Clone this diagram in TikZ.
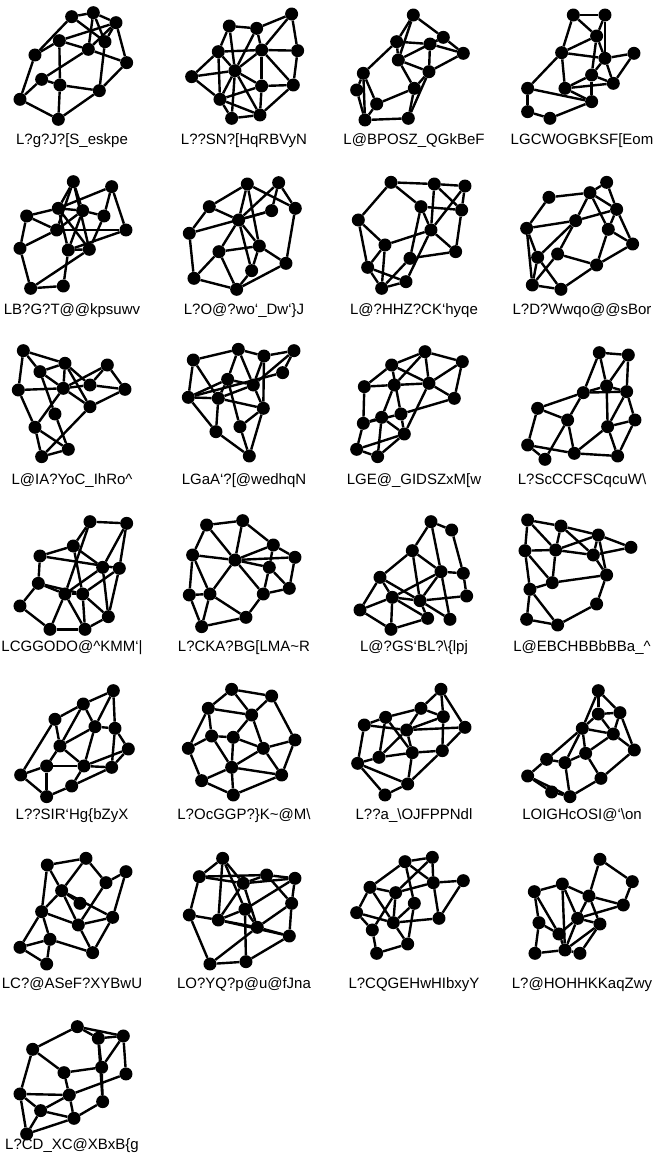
\documentclass[tikz,border=0pt]{standalone}
\usepackage{fontspec}
\setmainfont{Liberation Sans}
\usepackage{tikz}

\tikzset{
  vtx/.style = {circle,fill=black,draw=none,inner sep=0pt,minimum size=13pt},
  edg/.style = {black,line width=2.4pt},
  lbl/.style = {anchor=base,inner sep=0pt,font=\fontsize{15}{17}\selectfont},
  cell/.style = {x=0.3333pt,y=-0.3333pt},
}

\begin{document}
\begin{tikzpicture}[x=1pt,y=-1pt]
  \useasboundingbox (0,0) rectangle (669,1163);

  % row 1
  \begin{scope}[shift={(0,0)},cell]
    \foreach \n/\x/\y in {a/215/50,b/280/38,c/348/68,d/178/122,e/315/125,f/265/148,g/105/165,
                          h/380/188,i/125/238,j/180/255,k/298/272,l/60/298,m/175/358}
      \node[vtx] (g1\n) at (\x,\y) {};
    \foreach \u/\v in {a/b,b/c,a/g,a/e,b/f,b/e,c/e,c/h,c/f,d/g,d/f,d/j,f/h,f/i,e/k,h/k,g/l,
                       i/j,i/l,j/k,j/m,l/m,m/k,d/c}
      \draw[edg] (g1\u) -- (g1\v);
  \end{scope}
  \begin{scope}[shift={(0,0)},cell]
    \foreach \n/\x/\y in {a/688/78,b/770/85,c/875/42,d/655/155,e/785/150,f/893/152,g/575/230,
                          h/705/212,i/785/258,j/880/255,k/660/298,l/695/355,m/780/345}
      \node[vtx] (g2\n) at (\x,\y) {};
    \foreach \u/\v in {a/b,a/d,a/h,b/c,b/e,b/h,c/e,c/f,d/e,d/g,d/h,d/k,e/f,e/h,e/i,e/j,f/j,
                       g/h,g/k,h/i,h/k,h/l,h/m,i/j,i/k,i/m,j/m,k/l,k/m,l/m}
      \draw[edg] (g2\u) -- (g2\v);
  \end{scope}
  \begin{scope}[shift={(335,0)},cell]
    \foreach \n/\x/\y in {a/235/45,b/185/125,c/285/132,d/325/112,e/385/160,f/190/180,g/282/215,
                          h/85/220,i/65/270,j/238/265,k/125/312,l/90/360,m/220/355}
      \node[vtx] (g3\n) at (\x,\y) {};
    \foreach \u/\v in {a/b,a/d,a/f,b/c,b/f,b/h,c/d,c/g,c/e,d/e,d/f,e/g,f/g,f/j,g/j,g/m,h/i,
                       h/k,h/l,i/l,j/k,j/m,l/m,k/l}
      \draw[edg] (g3\u) -- (g3\v);
  \end{scope}
  \begin{scope}[shift={(335,0)},cell]
    \foreach \n/\x/\y in {a/715/45,b/810/45,c/785/108,d/680/158,e/810/175,f/897/160,g/770/225,
                          h/835/250,i/690/265,j/578/265,k/770/305,l/578/335,m/645/355}
      \node[vtx] (g4\n) at (\x,\y) {};
    \foreach \u/\v in {a/b,a/c,b/c,b/e,a/d,c/d,c/e,d/e,d/i,d/j,e/f,e/g,e/h,f/h,g/i,g/h,g/k,
                       i/h,i/k,j/l,j/k,l/m,m/k,c/g}
      \draw[edg] (g4\u) -- (g4\v);
  \end{scope}
  \node[lbl] (t1) at (72,144) {L?g?J?[S\_eskpe};
  \node[lbl] (t2) at (244,144) {L??SN?[HqRBVyN};
  \node[lbl] (t3) at (414,144) {L@BPOSZ\_QGkBeF};
  \node[lbl] (t4) at (582,144) {LGCWOGBKSF[Eom};

  % row 2
  \begin{scope}[shift={(0,150)},cell]
    \foreach \n/\x/\y in {a/220/95,b/335/110,c/175/175,d/248/182,e/80/198,f/312/198,g/170/240,
                          h/378/240,i/60/295,j/205/300,k/268/298,l/92/415,m/190/408}
      \node[vtx] (g5\n) at (\x,\y) {};
    \foreach \u/\v in {a/c,a/d,a/g,a/k,b/c,b/f,b/h,c/e,c/d,c/j,d/f,d/g,d/j,e/g,e/i,f/k,g/h,
                       g/i,h/j,j/k,j/m,k/l,i/l,l/m,c/k}
      \draw[edg] (g5\u) -- (g5\v);
  \end{scope}
  \begin{scope}[shift={(0,150)},cell]
    \foreach \n/\x/\y in {a/742/102,b/836/98,c/628/170,d/815/182,e/886/175,f/716/210,g/568/250,
                          h/778/288,i/657/305,j/858/340,k/755/362,l/582/385,m/710/418}
      \node[vtx] (g6\n) at (\x,\y) {};
    \foreach \u/\v in {a/c,a/f,a/e,b/d,b/e,b/f,c/f,c/g,d/f,g/d,e/j,f/h,f/i,f/k,h/i,h/k,h/j,
                       i/l,i/m,j/m,k/m,l/m,g/l,a/h}
      \draw[edg] (g6\u) -- (g6\v);
  \end{scope}
  \begin{scope}[shift={(335,150)},cell]
    \foreach \n/\x/\y in {a/168/97,b/298/102,c/390/108,d/258/170,e/380/180,f/70/210,g/288/240,
                          h/150/285,i/362/305,j/225/325,k/98/352,l/213/395,m/140/415}
      \node[vtx] (g7\n) at (\x,\y) {};
    \foreach \u/\v in {a/b,a/d,a/f,b/c,b/g,b/e,c/e,c/g,d/e,d/g,d/j,f/h,f/k,e/i,g/h,g/i,g/l,
                       h/k,h/m,j/i,j/m,k/l,k/m,l/m}
      \draw[edg] (g7\u) -- (g7\v);
  \end{scope}
  \begin{scope}[shift={(335,150)},cell]
    \foreach \n/\x/\y in {a/815/97,b/642/142,c/765/128,d/845/178,e/722/212,f/820/238,g/575/235,
                          h/893/282,i/668/312,j/608/322,k/785/345,l/592/405,m/678/418}
      \node[vtx] (g8\n) at (\x,\y) {};
    \foreach \u/\v in {a/c,a/d,b/c,b/g,c/d,c/e,c/f,d/e,d/f,d/h,e/i,e/j,e/g,f/k,f/h,g/j,g/l,
                       h/k,i/k,j/m,j/l,l/m,m/k,l/i}
      \draw[edg] (g8\u) -- (g8\v);
  \end{scope}
  \node[lbl] (t5) at (72,314) {LB?G?T@@kpsuwv};
  \node[lbl] (t6) at (244,314) {L?O@?wo`\_Dw`\}J};
  \node[lbl] (t7) at (414,314) {L@?HHZ?CK`hyqe};
  \node[lbl] (t8) at (582,314) {L?D?Wwqo@@sBor};

  % row 3
  \begin{scope}[shift={(0,310)},cell]
    \foreach \n/\x/\y in {a/70/122,b/120/185,c/195/160,d/55/240,e/190/235,f/322/165,g/270/225,
                          h/375/238,i/270/290,j/165/312,k/105/352,l/125/440,m/205/418}
      \node[vtx] (g9\n) at (\x,\y) {};
    \foreach \u/\v in {a/b,a/c,a/d,b/c,b/e,b/j,c/e,c/i,d/e,d/k,e/f,e/g,e/i,e/k,f/g,f/h,g/h,
                       g/c,h/i,i/l,j/m,k/l,k/m,l/m}
      \draw[edg] (g9\u) -- (g9\v);
  \end{scope}
  \begin{scope}[shift={(0,310)},cell]
    \foreach \n/\x/\y in {a/580/150,b/715/118,c/792/138,d/882/122,e/848/188,f/683/208,g/760/225,
                          h/565/262,i/655/265,j/790/295,k/720/350,l/648/365,m/748/438}
      \node[vtx] (g10\n) at (\x,\y) {};
    \foreach \u/\v in {a/b,a/h,a/i,b/c,b/f,b/g,c/d,c/g,c/j,d/e,d/g,f/h,f/g,f/i,f/k,g/i,g/j,
                       h/i,h/e,h/l,i/j,j/k,j/m,k/m,l/m,l/i}
      \draw[edg] (g10\u) -- (g10\v);
  \end{scope}
  \begin{scope}[shift={(335,310)},cell]
    \foreach \n/\x/\y in {a/270/125,b/382/155,c/170/165,d/88/230,e/178/225,f/282/220,g/358/265,
                          h/85/340,i/140/322,j/198/312,k/208/372,l/65/418,m/128/440}
      \node[vtx] (g11\n) at (\x,\y) {};
    \foreach \u/\v in {a/b,a/c,a/f,a/e,c/d,c/f,c/j,b/g,b/f,d/e,d/h,e/f,e/i,f/g,f/k,g/j,h/i,
                       h/j,h/l,i/k,i/m,j/k,k/m,l/m,l/k}
      \draw[edg] (g11\u) -- (g11\v);
  \end{scope}
  \begin{scope}[shift={(335,310)},cell]
    \foreach \n/\x/\y in {a/793/128,b/880/135,c/815/228,d/745/248,e/875/245,f/608/295,g/698/330,
                          h/818/350,i/900/330,j/578/405,k/718/430,l/630/448,m/848/438}
      \node[vtx] (g12\n) at (\x,\y) {};
    \foreach \u/\v in {a/b,a/c,a/d,b/e,b/c,c/d,c/e,c/h,d/e,d/f,d/g,e/i,e/h,f/j,f/g,g/k,g/l,
                       h/i,h/k,h/m,i/m,j/k,j/l,k/m}
      \draw[edg] (g12\u) -- (g12\v);
  \end{scope}
  \node[lbl] (t9) at (72,484) {L@IA?YoC\_IhRo\textasciicircum};
  \node[lbl] (t10) at (244,484) {LGaA`?[@wedhqN};
  \node[lbl] (t11) at (414,484) {LGE@\_GIDSZxM[w};
  \node[lbl] (t12) at (582,484) {L?ScCCFSCqcuW\textbackslash};

  % row 4
  \begin{scope}[shift={(0,470)},cell]
    \foreach \n/\x/\y in {a/270/155,b/380/160,c/220/228,d/120/258,e/308/292,f/358/295,g/115/340,
                          h/195/372,i/248/372,j/60/408,k/325/440,l/150/478,m/255/478}
      \node[vtx] (g13\n) at (\x,\y) {};
    \foreach \u/\v in {a/b,a/c,a/h,b/f,b/e,c/d,c/e,c/i,d/g,d/f,e/h,e/k,f/i,f/k,g/h,g/j,g/i,
                       h/i,h/l,i/m,i/k,j/l,l/m,k/m,h/m}
      \draw[edg] (g13\u) -- (g13\v);
  \end{scope}
  \begin{scope}[shift={(0,470)},cell]
    \foreach \n/\x/\y in {a/620/165,b/728/152,c/820/225,d/578/255,e/705/270,f/885/262,g/808/292,
                          h/630/372,n/568/375,i/790/372,j/868/355,k/738/442,l/605/470}
      \node[vtx] (g14\n) at (\x,\y) {};
    \foreach \u/\v in {a/b,a/d,a/e,b/e,b/c,c/e,c/f,c/g,e/f,e/g,e/h,e/i,d/h,d/n,f/j,g/i,g/j,
                       i/j,i/k,h/k,h/l,h/n,n/l,l/k,d/e}
      \draw[edg] (g14\u) -- (g14\v);
  \end{scope}
  \begin{scope}[shift={(335,470)},cell]
    \foreach \n/\x/\y in {a/288/155,b/350/180,c/232/242,d/135/322,e/318/305,f/385/310,g/395/378,
                          h/172/382,i/255/392,j/75/420,k/278/445,l/345/448,m/168/478}
      \node[vtx] (g15\n) at (\x,\y) {};
    \foreach \u/\v in {a/b,a/c,a/e,b/f,c/d,c/e,c/i,d/h,d/j,d/i,e/f,e/i,e/l,f/g,h/i,h/j,h/m,
                       h/k,i/k,i/l,i/g,j/m,k/m,e/h}
      \draw[edg] (g15\u) -- (g15\v);
  \end{scope}
  \begin{scope}[shift={(335,470)},cell]
    \foreach \n/\x/\y in {a/578/150,b/678/168,c/790/195,d/570/242,e/662/240,f/775/255,g/888/232,
                          h/815/315,i/652/338,j/585/358,k/785/402,l/575/448,m/668/465}
      \node[vtx] (g16\n) at (\x,\y) {};
    \foreach \u/\v in {a/b,a/d,a/e,b/c,b/e,b/f,c/f,c/g,c/h,d/i,d/j,e/f,e/c,e/i,f/g,f/h,h/i,
                       h/k,i/j,j/l,j/m,k/m,l/m,d/e}
      \draw[edg] (g16\u) -- (g16\v);
  \end{scope}
  \node[lbl] (t13) at (72,651) {LCGGODO@\textasciicircum{}KMM`|};
  \node[lbl] (t14) at (244,651) {L?CKA?BG[LMA\textasciitilde{}R};
  \node[lbl] (t15) at (414,651) {L@?GS`BL?\textbackslash\{lpj};
  \node[lbl] (t16) at (582,651) {L@EBCHBBbBBa\_\textasciicircum};

  % row 5
  \begin{scope}[shift={(0,630)},cell]
    \foreach \n/\x/\y in {a/340/182,b/250/222,c/165/268,d/285/290,e/345/295,f/385/357,g/180/348,
                          h/140/408,i/252/408,j/335/412,k/62/435,l/215/468,m/140/500}
      \node[vtx] (g17\n) at (\x,\y) {};
    \foreach \u/\v in {a/b,a/d,a/e,b/c,b/d,b/g,c/g,c/k,d/e,d/g,d/i,e/f,e/j,f/j,f/i,g/h,g/i,
                       h/k,h/i,h/m,i/l,i/j,k/m,l/m,j/l}
      \draw[edg] (g17\u) -- (g17\v);
  \end{scope}
  \begin{scope}[shift={(0,630)},cell]
    \foreach \n/\x/\y in {a/695/178,b/815/198,c/625/235,d/755/255,e/635/318,f/700/322,g/885/330,
                          h/565/355,i/790/355,j/695/412,k/845/435,l/605/452,m/700/495}
      \node[vtx] (g18\n) at (\x,\y) {};
    \foreach \u/\v in {a/b,a/c,a/d,b/d,b/g,c/e,c/h,c/d,d/f,d/i,e/h,e/f,e/j,f/i,f/j,g/i,g/k,
                       h/l,i/j,i/k,j/k,j/l,j/m,l/m,k/m}
      \draw[edg] (g18\u) -- (g18\v);
  \end{scope}
  \begin{scope}[shift={(335,630)},cell]
    \foreach \n/\x/\y in {a/318/178,b/258/235,c/152/262,d/88/285,e/325/260,f/215/300,g/390/292,
                          h/132/382,i/232/368,j/322/362,k/68/400,l/218/462,m/150/495}
      \node[vtx] (g19\n) at (\x,\y) {};
    \foreach \u/\v in {a/b,a/e,a/g,b/c,b/f,b/e,c/d,c/h,c/i,d/f,d/k,e/f,e/j,f/g,f/i,f/h,g/j,
                       h/i,h/k,i/j,i/l,k/l,k/m,l/m,j/l}
      \draw[edg] (g19\u) -- (g19\v);
  \end{scope}
  \begin{scope}[shift={(335,630)},cell]
    \foreach \n/\x/\y in {a/790/182,b/790/252,c/855/248,d/742/295,e/835/312,f/898/360,g/752/370,
                          h/635/388,i/690/398,j/578/438,k/798/445,l/650/486,m/705/500}
      \node[vtx] (g20\n) at (\x,\y) {};
    \foreach \u/\v in {a/b,a/c,a/d,b/c,b/d,b/e,c/e,c/f,d/e,d/g,d/h,e/g,f/k,g/i,g/k,h/i,h/j,
                       i/m,j/l,l/m,m/k,j/m,e/f,d/i}
      \draw[edg] (g20\u) -- (g20\v);
  \end{scope}
  \node[lbl] (t17) at (72,819) {L??SIR`Hg\{bZyX};
  \node[lbl] (t18) at (244,819) {L?OcGGP?\}K\textasciitilde{}@M\textbackslash};
  \node[lbl] (t19) at (414,819) {L??a\_\textbackslash{}OJFPPNdl};
  \node[lbl] (t20) at (582,819) {LOIGHcOSI@`\textbackslash{}on};

  % row 6
  \begin{scope}[shift={(0,790)},cell]
    \foreach \n/\x/\y in {a/142/225,b/258/205,c/378/245,d/318/278,e/185/302,f/240/340,g/125/365,
                          h/338/382,i/235/405,j/150/448,k/60/472,l/278/488,m/140/522}
      \node[vtx] (g21\n) at (\x,\y) {};
    \foreach \u/\v in {a/b,a/g,b/e,b/d,c/d,c/h,e/g,e/f,e/i,g/i,g/j,g/k,h/i,i/l,i/d,j/k,j/m,
                       j/l,k/m,h/l,e/h,a/e}
      \draw[edg] (g21\u) -- (g21\v);
  \end{scope}
  \begin{scope}[shift={(0,790)},cell]
    \foreach \n/\x/\y in {a/668/205,b/598/260,c/730/280,d/800/255,e/885/265,f/875/340,g/568/375,
                          h/735/358,i/655/390,j/772/412,k/868/438,l/630/522,m/738/515}
      \node[vtx] (g22\n) at (\x,\y) {};
    \foreach \u/\v in {a/b,a/c,a/h,a/i,b/c,b/g,b/d,c/d,c/e,c/i,c/j,d/e,d/f,e/f,e/h,f/j,f/k,
                       g/i,g/l,h/i,h/j,h/m,i/k,i/j,j/k,j/l,k/m,l/m}
      \draw[edg] (g22\u) -- (g22\v);
  \end{scope}
  \begin{scope}[shift={(335,790)},cell]
    \foreach \n/\x/\y in {a/210/215,b/292/202,c/105/292,d/295/278,e/385/272,f/182/308,g/238/340,
                          h/65/368,i/312/385,j/112/420,k/175/398,l/218/462,m/125/490}
      \node[vtx] (g23\n) at (\x,\y) {};
    \foreach \u/\v in {a/b,a/c,a/d,a/g,b/d,b/f,c/f,c/h,d/e,d/f,e/i,f/j,f/k,g/k,g/l,h/j,h/k,
                       i/k,j/m,k/l,l/m,d/i,c/k}
      \draw[edg] (g23\u) -- (g23\v);
  \end{scope}
  \begin{scope}[shift={(335,790)},cell]
    \foreach \n/\x/\y in {a/795/208,b/682/282,c/892/275,d/598/305,e/762/318,f/865/345,g/612/398,
                          h/728/385,i/795/402,j/672/432,k/690/480,l/600/490,m/735/490}
      \node[vtx] (g24\n) at (\x,\y) {};
    \foreach \u/\v in {a/c,a/e,b/d,b/e,b/h,b/k,c/f,d/g,d/j,e/f,e/h,e/i,g/j,g/l,h/i,h/j,h/k,
                       i/k,j/k,k/l,k/m,i/m,f/h}
      \draw[edg] (g24\u) -- (g24\v);
  \end{scope}
  \node[lbl] (t21) at (72,988) {LC?@ASeF?XYBwU};
  \node[lbl] (t22) at (244,988) {LO?YQ?p@u@fJna};
  \node[lbl] (t23) at (414,988) {L?CQGEHwHIbxyY};
  \node[lbl] (t24) at (582,988) {L?@HOHHKKaqZwy};

  % row 7
  \begin{scope}[shift={(0,790)},cell]
    \foreach \n/\x/\y in {a/232/710,b/295/745,c/370/738,d/98/778,e/305/832,f/378/852,g/192/848,
                          h/60/912,i/208/915,j/308/935,k/122/962,l/222/985,m/80/1032}
      \node[vtx] (g25\n) at (\x,\y) {};
    \foreach \u/\v in {a/b,a/c,a/d,b/c,b/e,c/e,c/f,d/g,d/h,g/i,g/e,e/j,h/i,h/k,h/m,i/k,i/l,
                       j/l,k/l,k/m,l/m,f/i,b/j}
      \draw[edg] (g25\u) -- (g25\v);
  \end{scope}
  \node[lbl] (t25) at (72,1149) {L?CD\_XC@XBxB\{g};
\end{tikzpicture}
\end{document}
